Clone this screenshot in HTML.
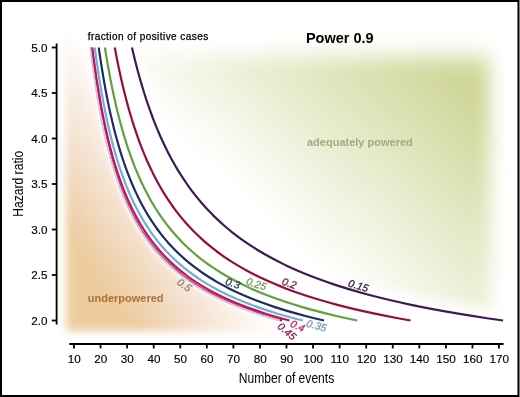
<!DOCTYPE html>
<html><head><meta charset="utf-8"><title>Power 0.9</title>
<style>html,body{margin:0;padding:0;background:#808080;}body{width:520px;height:397px;overflow:hidden;}svg{display:block;}</style>
</head><body>
<svg width="520" height="397" viewBox="0 0 520 397">
<defs>
<filter id="b4" x="-20%" y="-20%" width="140%" height="140%"><feGaussianBlur stdDeviation="4"/></filter>
<filter id="bg2" x="-20%" y="-20%" width="140%" height="140%"><feGaussianBlur stdDeviation="9 11"/></filter>
<filter id="b3" x="-20%" y="-20%" width="140%" height="140%"><feGaussianBlur stdDeviation="3"/></filter>
<filter id="b5" x="-20%" y="-20%" width="140%" height="140%"><feGaussianBlur stdDeviation="5"/></filter>
<filter id="b6" x="-20%" y="-20%" width="140%" height="140%"><feGaussianBlur stdDeviation="6"/></filter>
<filter id="b7" x="-20%" y="-20%" width="140%" height="140%"><feGaussianBlur stdDeviation="7"/></filter>
<linearGradient id="go" gradientUnits="userSpaceOnUse" x1="214.5" y1="232.5" x2="116.8" y2="300">
<stop offset="0" stop-color="#eac4aa" stop-opacity="0"/>
<stop offset="0.5" stop-color="#ebc8a6" stop-opacity="0.5"/>
<stop offset="1" stop-color="#edcca0" stop-opacity="1"/>
</linearGradient>
<linearGradient id="gg" gradientUnits="userSpaceOnUse" x1="302" y1="254" x2="458" y2="88">
<stop offset="0" stop-color="#d0d79a" stop-opacity="0"/>
<stop offset="1" stop-color="#d0d79a" stop-opacity="1"/>
</linearGradient>
<mask id="mo1" maskUnits="userSpaceOnUse" x="0" y="0" width="520" height="397"><rect x="66" y="36" width="400" height="295" fill="#fff" filter="url(#b4)"/></mask>
<mask id="mo2" maskUnits="userSpaceOnUse" x="0" y="0" width="520" height="397"><path d="M30.00,-20.00 L89.54,-20.00 L89.54,47.50 L89.81,49.78 L90.08,52.05 L90.36,54.33 L90.64,56.60 L90.93,58.88 L91.22,61.15 L91.51,63.42 L91.81,65.70 L92.11,67.97 L92.42,70.25 L92.73,72.53 L93.05,74.80 L93.38,77.08 L93.70,79.35 L94.04,81.62 L94.38,83.90 L94.72,86.17 L95.07,88.45 L95.43,90.72 L95.79,93.00 L96.15,95.28 L96.53,97.55 L96.91,99.83 L97.30,102.10 L97.69,104.38 L98.09,106.65 L98.50,108.92 L98.91,111.20 L99.33,113.47 L99.76,115.75 L100.20,118.03 L100.65,120.30 L101.10,122.58 L101.56,124.85 L102.03,127.12 L102.51,129.40 L103.00,131.67 L103.50,133.95 L104.01,136.22 L104.53,138.50 L105.06,140.77 L105.60,143.05 L106.15,145.33 L106.71,147.60 L107.28,149.88 L107.87,152.15 L108.47,154.42 L109.08,156.70 L109.70,158.98 L110.34,161.25 L110.99,163.52 L111.66,165.80 L112.34,168.08 L113.04,170.35 L113.75,172.62 L114.48,174.90 L115.23,177.17 L115.99,179.45 L116.77,181.72 L117.57,184.00 L118.39,186.28 L119.24,188.55 L120.10,190.83 L120.98,193.10 L121.89,195.38 L122.82,197.65 L123.78,199.92 L124.76,202.20 L125.76,204.47 L126.80,206.75 L127.86,209.03 L128.96,211.30 L130.08,213.58 L131.24,215.85 L132.43,218.12 L133.65,220.40 L134.91,222.67 L136.21,224.95 L137.55,227.22 L138.94,229.50 L140.36,231.78 L141.83,234.05 L143.35,236.33 L144.92,238.60 L146.54,240.88 L148.22,243.15 L149.95,245.42 L151.75,247.70 L153.61,249.97 L155.53,252.25 L157.53,254.53 L159.60,256.80 L161.75,259.08 L163.98,261.35 L166.30,263.62 L168.72,265.90 L171.23,268.17 L173.84,270.45 L176.57,272.73 L179.41,275.00 L182.37,277.27 L185.47,279.55 L188.71,281.83 L192.10,284.10 L195.65,286.38 L199.37,288.65 L203.27,290.92 L207.36,293.20 L211.67,295.48 L216.21,297.75 L220.98,300.02 L226.02,302.30 L231.34,304.57 L236.97,306.85 L242.93,309.12 L249.25,311.40 L255.96,313.68 L263.09,315.95 L270.69,318.23 L278.80,320.50 L339.80,321.50 L339.80,380.00 L30.00,380.00 Z" fill="#fff" filter="url(#b3)"/></mask>
<mask id="mg1" maskUnits="userSpaceOnUse" x="0" y="0" width="520" height="397"><rect x="40" y="57" width="450" height="400" fill="#fff" filter="url(#bg2)"/></mask>
<mask id="mg2" maskUnits="userSpaceOnUse" x="0" y="0" width="520" height="397"><path d="M136.95,39.50 L137.48,41.78 L138.01,44.05 L138.56,46.33 L139.11,48.60 L139.67,50.88 L140.24,53.15 L140.82,55.42 L141.40,57.70 L142.00,59.97 L142.60,62.25 L143.22,64.53 L143.84,66.80 L144.47,69.08 L145.12,71.35 L145.77,73.62 L146.43,75.90 L147.11,78.17 L147.80,80.45 L148.49,82.72 L149.20,85.00 L149.92,87.28 L150.66,89.55 L151.40,91.83 L152.16,94.10 L152.93,96.38 L153.72,98.65 L154.51,100.92 L155.33,103.20 L156.16,105.47 L157.00,107.75 L157.86,110.03 L158.73,112.30 L159.62,114.58 L160.53,116.85 L161.45,119.12 L162.39,121.40 L163.35,123.67 L164.33,125.95 L165.33,128.22 L166.34,130.50 L167.38,132.77 L168.44,135.05 L169.52,137.33 L170.62,139.60 L171.75,141.88 L172.89,144.15 L174.07,146.42 L175.26,148.70 L176.49,150.98 L177.74,153.25 L179.02,155.52 L180.32,157.80 L181.66,160.08 L183.02,162.35 L184.42,164.62 L185.85,166.90 L187.32,169.17 L188.81,171.45 L190.35,173.72 L191.92,176.00 L193.53,178.28 L195.18,180.55 L196.87,182.83 L198.61,185.10 L200.38,187.38 L202.21,189.65 L204.08,191.92 L206.01,194.20 L207.98,196.47 L210.01,198.75 L212.10,201.03 L214.24,203.30 L216.44,205.58 L218.71,207.85 L221.04,210.12 L223.45,212.40 L225.92,214.67 L228.47,216.95 L231.10,219.22 L233.81,221.50 L236.60,223.78 L239.49,226.05 L242.47,228.33 L245.54,230.60 L248.72,232.88 L252.01,235.15 L255.41,237.42 L258.93,239.70 L262.57,241.97 L266.35,244.25 L270.27,246.53 L274.33,248.80 L278.54,251.08 L282.92,253.35 L287.47,255.62 L292.20,257.90 L297.12,260.17 L302.25,262.45 L307.59,264.73 L313.17,267.00 L318.98,269.27 L325.06,271.55 L331.40,273.83 L338.05,276.10 L345.00,278.38 L352.30,280.65 L359.95,282.92 L367.98,285.20 L376.43,287.48 L385.32,289.75 L394.68,292.02 L404.56,294.30 L415.00,296.57 L426.03,298.85 L437.72,301.12 L450.11,303.40 L463.26,305.68 L477.25,307.95 L492.16,310.23 L508.06,312.50 L560.00,312.50 L560.00,0.00 L136.95,0.00 Z" fill="#fff" filter="url(#b6)"/></mask>
</defs>
<rect x="0" y="0" width="520" height="397" fill="#808080"/>
<rect x="0" y="0" width="519" height="397" fill="#000"/>
<rect x="2" y="2" width="515" height="393" fill="#fff"/>
<rect x="517" y="2" width="1" height="393" fill="#7a7a7a"/>
<g mask="url(#mo1)"><rect x="40" y="20" width="400" height="350" fill="url(#go)" mask="url(#mo2)"/></g>
<g mask="url(#mg1)"><rect x="60" y="20" width="460" height="350" fill="url(#gg)" mask="url(#mg2)"/></g>
<g stroke="#000" stroke-width="1.8" fill="none" stroke-linecap="butt">
<path d="M56.6,43.5 V324.6"/>
<path d="M51.8,47.50 H56.6"/>
<path d="M51.8,93.00 H56.6"/>
<path d="M51.8,138.50 H56.6"/>
<path d="M51.8,184.00 H56.6"/>
<path d="M51.8,229.50 H56.6"/>
<path d="M51.8,275.00 H56.6"/>
<path d="M51.8,320.50 H56.6"/>
<path d="M69.3,344 H503.6"/>
<path d="M74.00,344 V348.4"/>
<path d="M100.56,344 V348.4"/>
<path d="M127.12,344 V348.4"/>
<path d="M153.69,344 V348.4"/>
<path d="M180.25,344 V348.4"/>
<path d="M206.81,344 V348.4"/>
<path d="M233.38,344 V348.4"/>
<path d="M259.94,344 V348.4"/>
<path d="M286.50,344 V348.4"/>
<path d="M313.06,344 V348.4"/>
<path d="M339.62,344 V348.4"/>
<path d="M366.19,344 V348.4"/>
<path d="M392.75,344 V348.4"/>
<path d="M419.31,344 V348.4"/>
<path d="M445.88,344 V348.4"/>
<path d="M472.44,344 V348.4"/>
<path d="M499.00,344 V348.4"/>
</g>
<g font-family="Liberation Sans, Arial, sans-serif" font-size="11.7" fill="#000" stroke="#000" stroke-width="0.15">
<text x="47.4" y="51.50" text-anchor="end">5.0</text>
<text x="47.4" y="97.00" text-anchor="end">4.5</text>
<text x="47.4" y="142.50" text-anchor="end">4.0</text>
<text x="47.4" y="188.00" text-anchor="end">3.5</text>
<text x="47.4" y="233.50" text-anchor="end">3.0</text>
<text x="47.4" y="279.00" text-anchor="end">2.5</text>
<text x="47.4" y="324.50" text-anchor="end">2.0</text>
<text x="74.20" y="363.1" text-anchor="middle">10</text>
<text x="100.76" y="363.1" text-anchor="middle">20</text>
<text x="127.33" y="363.1" text-anchor="middle">30</text>
<text x="153.89" y="363.1" text-anchor="middle">40</text>
<text x="180.45" y="363.1" text-anchor="middle">50</text>
<text x="207.01" y="363.1" text-anchor="middle">60</text>
<text x="233.57" y="363.1" text-anchor="middle">70</text>
<text x="260.14" y="363.1" text-anchor="middle">80</text>
<text x="286.70" y="363.1" text-anchor="middle">90</text>
<text x="313.26" y="363.1" text-anchor="middle">100</text>
<text x="339.82" y="363.1" text-anchor="middle">110</text>
<text x="366.39" y="363.1" text-anchor="middle">120</text>
<text x="392.95" y="363.1" text-anchor="middle">130</text>
<text x="419.51" y="363.1" text-anchor="middle">140</text>
<text x="446.07" y="363.1" text-anchor="middle">150</text>
<text x="472.64" y="363.1" text-anchor="middle">160</text>
<text x="499.20" y="363.1" text-anchor="middle">170</text>
</g>
<text transform="translate(286.5 382.7) scale(0.865 1)" text-anchor="middle" font-family="Liberation Sans, Arial, sans-serif" font-size="14" fill="#000">Number of events</text>
<text transform="translate(22.6 183.8) rotate(-90) scale(0.865 1)" text-anchor="middle" font-family="Liberation Sans, Arial, sans-serif" font-size="14" fill="#000">Hazard ratio</text>
<text x="87.7" y="39.7" font-family="Liberation Sans, Arial, sans-serif" font-size="10" letter-spacing="0.44" fill="#000" stroke="#000" stroke-width="0.25">fraction of positive cases</text>
<text x="305.9" y="42.6" font-family="Liberation Sans, Arial, sans-serif" font-size="14.5" font-weight="bold" fill="#000">Power 0.9</text>
<text x="307" y="146" font-family="Liberation Sans, Arial, sans-serif" font-size="11" font-weight="bold" fill="#a2ab78">adequately powered</text>
<text x="87.8" y="301.9" font-family="Liberation Sans, Arial, sans-serif" font-size="11" font-weight="bold" fill="#ab6f34">underpowered</text>
<g fill="none" stroke-linecap="butt" stroke-linejoin="round">
<path d="M90.97,47.50 L91.25,49.78 L91.52,52.05 L91.80,54.33 L92.09,56.60 L92.38,58.88 L92.67,61.15 L92.97,63.42 L93.27,65.70 L93.57,67.97 L93.89,70.25 L94.20,72.53 L94.52,74.80 L94.85,77.08 L95.18,79.35 L95.52,81.62 L95.86,83.90 L96.21,86.17 L96.56,88.45 L96.92,90.72 L97.29,93.00 L97.66,95.28 L98.03,97.55 L98.42,99.83 L98.81,102.10 L99.21,104.38 L99.61,106.65 L100.02,108.92 L100.44,111.20 L100.87,113.47 L101.30,115.75 L101.74,118.03 L102.19,120.30 L102.65,122.58 L103.12,124.85 L103.60,127.12 L104.08,129.40 L104.57,131.67 L105.08,133.95 L105.59,136.22 L106.12,138.50 L106.65,140.77 L107.20,143.05 L107.75,145.33 L108.32,147.60 L108.90,149.88 L109.49,152.15 L110.09,154.42 L110.71,156.70 L111.34,158.98 L111.99,161.25 L112.64,163.52 L113.32,165.80 L114.01,168.08 L114.71,170.35 L115.43,172.62 L116.17,174.90 L116.92,177.17 L117.69,179.45 L118.48,181.72 L119.29,184.00 L120.12,186.28 L120.97,188.55 L121.84,190.83 L122.74,193.10 L123.65,195.38 L124.59,197.65 L125.56,199.92 L126.55,202.20 L127.57,204.47 L128.61,206.75 L129.69,209.03 L130.79,211.30 L131.93,213.58 L133.09,215.85 L134.30,218.12 L135.53,220.40 L136.81,222.67 L138.12,224.95 L139.47,227.22 L140.87,229.50 L142.31,231.78 L143.80,234.05 L145.33,236.33 L146.92,238.60 L148.55,240.88 L150.25,243.15 L152.00,245.42 L153.81,247.70 L155.69,249.97 L157.63,252.25 L159.65,254.53 L161.74,256.80 L163.92,259.08 L166.17,261.35 L168.51,263.62 L170.95,265.90 L173.49,268.17 L176.13,270.45 L178.88,272.73 L181.75,275.00 L184.75,277.27 L187.88,279.55 L191.15,281.83 L194.57,284.10 L198.15,286.38 L201.91,288.65 L205.85,290.92 L209.99,293.20 L214.34,295.48 L218.92,297.75 L223.75,300.02 L228.84,302.30 L234.21,304.57 L239.90,306.85 L245.91,309.12 L252.30,311.40 L259.07,313.68 L266.28,315.95 L273.96,318.23 L282.15,320.50" stroke="#fff" stroke-opacity="0.75" stroke-width="4.60"/>
<path d="M90.54,47.50 L90.81,49.78 L91.08,52.05 L91.36,54.33 L91.64,56.60 L91.93,58.88 L92.22,61.15 L92.51,63.42 L92.81,65.70 L93.11,67.97 L93.42,70.25 L93.73,72.53 L94.05,74.80 L94.38,77.08 L94.70,79.35 L95.04,81.62 L95.38,83.90 L95.72,86.17 L96.07,88.45 L96.43,90.72 L96.79,93.00 L97.15,95.28 L97.53,97.55 L97.91,99.83 L98.30,102.10 L98.69,104.38 L99.09,106.65 L99.50,108.92 L99.91,111.20 L100.33,113.47 L100.76,115.75 L101.20,118.03 L101.65,120.30 L102.10,122.58 L102.56,124.85 L103.03,127.12 L103.51,129.40 L104.00,131.67 L104.50,133.95 L105.01,136.22 L105.53,138.50 L106.06,140.77 L106.60,143.05 L107.15,145.33 L107.71,147.60 L108.28,149.88 L108.87,152.15 L109.47,154.42 L110.08,156.70 L110.70,158.98 L111.34,161.25 L111.99,163.52 L112.66,165.80 L113.34,168.08 L114.04,170.35 L114.75,172.62 L115.48,174.90 L116.23,177.17 L116.99,179.45 L117.77,181.72 L118.57,184.00 L119.39,186.28 L120.24,188.55 L121.10,190.83 L121.98,193.10 L122.89,195.38 L123.82,197.65 L124.78,199.92 L125.76,202.20 L126.76,204.47 L127.80,206.75 L128.86,209.03 L129.96,211.30 L131.08,213.58 L132.24,215.85 L133.43,218.12 L134.65,220.40 L135.91,222.67 L137.21,224.95 L138.55,227.22 L139.94,229.50 L141.36,231.78 L142.83,234.05 L144.35,236.33 L145.92,238.60 L147.54,240.88 L149.22,243.15 L150.95,245.42 L152.75,247.70 L154.61,249.97 L156.53,252.25 L158.53,254.53 L160.60,256.80 L162.75,259.08 L164.98,261.35 L167.30,263.62 L169.72,265.90 L172.23,268.17 L174.84,270.45 L177.57,272.73 L180.41,275.00 L183.37,277.27 L186.47,279.55 L189.71,281.83 L193.10,284.10 L196.65,286.38 L200.37,288.65 L204.27,290.92 L208.36,293.20 L212.67,295.48 L217.21,297.75 L221.98,300.02 L227.02,302.30 L232.34,304.57 L237.97,306.85 L243.93,309.12 L250.25,311.40 L256.96,313.68 L264.09,315.95 L271.69,318.23 L279.80,320.50" stroke="#fff" stroke-opacity="0.75" stroke-width="4.60"/>
<path d="M92.33,47.50 L92.61,49.78 L92.90,52.05 L93.19,54.33 L93.48,56.60 L93.78,58.88 L94.08,61.15 L94.39,63.42 L94.70,65.70 L95.02,67.97 L95.34,70.25 L95.66,72.53 L96.00,74.80 L96.33,77.08 L96.67,79.35 L97.02,81.62 L97.37,83.90 L97.73,86.17 L98.10,88.45 L98.47,90.72 L98.84,93.00 L99.23,95.28 L99.62,97.55 L100.01,99.83 L100.41,102.10 L100.82,104.38 L101.24,106.65 L101.67,108.92 L102.10,111.20 L102.54,113.47 L102.99,115.75 L103.44,118.03 L103.91,120.30 L104.38,122.58 L104.86,124.85 L105.35,127.12 L105.85,129.40 L106.36,131.67 L106.88,133.95 L107.41,136.22 L107.95,138.50 L108.50,140.77 L109.06,143.05 L109.64,145.33 L110.22,147.60 L110.82,149.88 L111.43,152.15 L112.05,154.42 L112.69,156.70 L113.34,158.98 L114.00,161.25 L114.68,163.52 L115.38,165.80 L116.09,168.08 L116.81,170.35 L117.55,172.62 L118.31,174.90 L119.09,177.17 L119.89,179.45 L120.70,181.72 L121.54,184.00 L122.39,186.28 L123.27,188.55 L124.17,190.83 L125.09,193.10 L126.03,195.38 L127.00,197.65 L128.00,199.92 L129.02,202.20 L130.07,204.47 L131.15,206.75 L132.26,209.03 L133.39,211.30 L134.57,213.58 L135.77,215.85 L137.01,218.12 L138.29,220.40 L139.60,222.67 L140.96,224.95 L142.35,227.22 L143.79,229.50 L145.28,231.78 L146.81,234.05 L148.39,236.33 L150.02,238.60 L151.71,240.88 L153.46,243.15 L155.27,245.42 L157.14,247.70 L159.07,249.97 L161.08,252.25 L163.16,254.53 L165.32,256.80 L167.56,259.08 L169.88,261.35 L172.30,263.62 L174.81,265.90 L177.43,268.17 L180.15,270.45 L182.99,272.73 L185.95,275.00 L189.04,277.27 L192.27,279.55 L195.64,281.83 L199.17,284.10 L202.86,286.38 L206.74,288.65 L210.80,290.92 L215.07,293.20 L219.56,295.48 L224.28,297.75 L229.26,300.02 L234.50,302.30 L240.05,304.57 L245.91,306.85 L252.12,309.12 L258.70,311.40 L265.69,313.68 L273.12,315.95 L281.04,318.23 L289.49,320.50" stroke="#fff" stroke-opacity="0.75" stroke-width="4.60"/>
<path d="M94.80,47.50 L95.10,49.78 L95.40,52.05 L95.70,54.33 L96.01,56.60 L96.33,58.88 L96.65,61.15 L96.97,63.42 L97.30,65.70 L97.63,67.97 L97.97,70.25 L98.31,72.53 L98.66,74.80 L99.02,77.08 L99.38,79.35 L99.74,81.62 L100.12,83.90 L100.50,86.17 L100.88,88.45 L101.27,90.72 L101.67,93.00 L102.07,95.28 L102.48,97.55 L102.90,99.83 L103.33,102.10 L103.76,104.38 L104.20,106.65 L104.65,108.92 L105.10,111.20 L105.57,113.47 L106.04,115.75 L106.52,118.03 L107.01,120.30 L107.51,122.58 L108.01,124.85 L108.53,127.12 L109.06,129.40 L109.60,131.67 L110.15,133.95 L110.70,136.22 L111.27,138.50 L111.86,140.77 L112.45,143.05 L113.05,145.33 L113.67,147.60 L114.30,149.88 L114.95,152.15 L115.60,154.42 L116.27,156.70 L116.96,158.98 L117.66,161.25 L118.38,163.52 L119.11,165.80 L119.86,168.08 L120.62,170.35 L121.41,172.62 L122.21,174.90 L123.03,177.17 L123.87,179.45 L124.73,181.72 L125.61,184.00 L126.51,186.28 L127.44,188.55 L128.38,190.83 L129.36,193.10 L130.35,195.38 L131.38,197.65 L132.43,199.92 L133.50,202.20 L134.61,204.47 L135.75,206.75 L136.92,209.03 L138.12,211.30 L139.35,213.58 L140.62,215.85 L141.93,218.12 L143.28,220.40 L144.66,222.67 L146.09,224.95 L147.57,227.22 L149.08,229.50 L150.65,231.78 L152.27,234.05 L153.94,236.33 L155.66,238.60 L157.44,240.88 L159.28,243.15 L161.19,245.42 L163.16,247.70 L165.21,249.97 L167.32,252.25 L169.52,254.53 L171.79,256.80 L174.16,259.08 L176.61,261.35 L179.16,263.62 L181.81,265.90 L184.57,268.17 L187.44,270.45 L190.44,272.73 L193.56,275.00 L196.82,277.27 L200.22,279.55 L203.78,281.83 L207.50,284.10 L211.40,286.38 L215.49,288.65 L219.78,290.92 L224.28,293.20 L229.01,295.48 L234.00,297.75 L239.25,300.02 L244.78,302.30 L250.63,304.57 L256.81,306.85 L263.36,309.12 L270.31,311.40 L277.68,313.68 L285.52,315.95 L293.87,318.23 L302.79,320.50" stroke="#fff" stroke-opacity="0.75" stroke-width="4.60"/>
<path d="M98.75,47.50 L99.07,49.78 L99.39,52.05 L99.72,54.33 L100.06,56.60 L100.40,58.88 L100.75,61.15 L101.10,63.42 L101.45,65.70 L101.81,67.97 L102.18,70.25 L102.55,72.53 L102.93,74.80 L103.32,77.08 L103.71,79.35 L104.10,81.62 L104.51,83.90 L104.92,86.17 L105.33,88.45 L105.76,90.72 L106.19,93.00 L106.62,95.28 L107.07,97.55 L107.52,99.83 L107.98,102.10 L108.45,104.38 L108.93,106.65 L109.41,108.92 L109.91,111.20 L110.41,113.47 L110.92,115.75 L111.44,118.03 L111.97,120.30 L112.51,122.58 L113.06,124.85 L113.62,127.12 L114.19,129.40 L114.78,131.67 L115.37,133.95 L115.98,136.22 L116.59,138.50 L117.22,140.77 L117.87,143.05 L118.52,145.33 L119.19,147.60 L119.87,149.88 L120.57,152.15 L121.28,154.42 L122.01,156.70 L122.75,158.98 L123.51,161.25 L124.29,163.52 L125.08,165.80 L125.89,168.08 L126.72,170.35 L127.57,172.62 L128.44,174.90 L129.33,177.17 L130.24,179.45 L131.17,181.72 L132.12,184.00 L133.10,186.28 L134.10,188.55 L135.13,190.83 L136.18,193.10 L137.26,195.38 L138.37,197.65 L139.51,199.92 L140.68,202.20 L141.87,204.47 L143.11,206.75 L144.37,209.03 L145.67,211.30 L147.01,213.58 L148.39,215.85 L149.81,218.12 L151.26,220.40 L152.77,222.67 L154.31,224.95 L155.91,227.22 L157.56,229.50 L159.25,231.78 L161.00,234.05 L162.81,236.33 L164.68,238.60 L166.61,240.88 L168.61,243.15 L170.67,245.42 L172.81,247.70 L175.02,249.97 L177.31,252.25 L179.69,254.53 L182.16,256.80 L184.72,259.08 L187.37,261.35 L190.14,263.62 L193.01,265.90 L196.00,268.17 L199.11,270.45 L202.35,272.73 L205.74,275.00 L209.27,277.27 L212.96,279.55 L216.81,281.83 L220.84,284.10 L225.07,286.38 L229.49,288.65 L234.14,290.92 L239.02,293.20 L244.15,295.48 L249.54,297.75 L255.23,300.02 L261.23,302.30 L267.56,304.57 L274.26,306.85 L281.36,309.12 L288.88,311.40 L296.87,313.68 L305.36,315.95 L314.41,318.23 L324.06,320.50" stroke="#fff" stroke-opacity="0.75" stroke-width="4.60"/>
<path d="M104.90,47.50 L105.26,49.78 L105.63,52.05 L106.00,54.33 L106.37,56.60 L106.76,58.88 L107.14,61.15 L107.54,63.42 L107.93,65.70 L108.34,67.97 L108.75,70.25 L109.17,72.53 L109.59,74.80 L110.02,77.08 L110.46,79.35 L110.90,81.62 L111.36,83.90 L111.81,86.17 L112.28,88.45 L112.76,90.72 L113.24,93.00 L113.73,95.28 L114.23,97.55 L114.73,99.83 L115.25,102.10 L115.77,104.38 L116.31,106.65 L116.85,108.92 L117.40,111.20 L117.97,113.47 L118.54,115.75 L119.12,118.03 L119.72,120.30 L120.32,122.58 L120.94,124.85 L121.57,127.12 L122.21,129.40 L122.86,131.67 L123.52,133.95 L124.20,136.22 L124.89,138.50 L125.60,140.77 L126.32,143.05 L127.05,145.33 L127.80,147.60 L128.57,149.88 L129.35,152.15 L130.14,154.42 L130.96,156.70 L131.79,158.98 L132.64,161.25 L133.51,163.52 L134.40,165.80 L135.31,168.08 L136.24,170.35 L137.19,172.62 L138.16,174.90 L139.15,177.17 L140.17,179.45 L141.22,181.72 L142.29,184.00 L143.38,186.28 L144.50,188.55 L145.65,190.83 L146.83,193.10 L148.04,195.38 L149.28,197.65 L150.56,199.92 L151.86,202.20 L153.21,204.47 L154.59,206.75 L156.01,209.03 L157.46,211.30 L158.96,213.58 L160.50,215.85 L162.09,218.12 L163.72,220.40 L165.41,222.67 L167.14,224.95 L168.93,227.22 L170.77,229.50 L172.67,231.78 L174.63,234.05 L176.66,236.33 L178.75,238.60 L180.91,240.88 L183.15,243.15 L185.46,245.42 L187.85,247.70 L190.33,249.97 L192.90,252.25 L195.56,254.53 L198.32,256.80 L201.19,259.08 L204.17,261.35 L207.26,263.62 L210.48,265.90 L213.82,268.17 L217.31,270.45 L220.94,272.73 L224.73,275.00 L228.69,277.27 L232.82,279.55 L237.14,281.83 L241.65,284.10 L246.38,286.38 L251.34,288.65 L256.54,290.92 L262.01,293.20 L267.75,295.48 L273.80,297.75 L280.17,300.02 L286.88,302.30 L293.98,304.57 L301.48,306.85 L309.43,309.12 L317.85,311.40 L326.80,313.68 L336.31,315.95 L346.45,318.23 L357.26,320.50" stroke="#fff" stroke-opacity="0.75" stroke-width="4.60"/>
<path d="M114.78,47.50 L115.20,49.78 L115.63,52.05 L116.06,54.33 L116.50,56.60 L116.95,58.88 L117.40,61.15 L117.86,63.42 L118.33,65.70 L118.81,67.97 L119.29,70.25 L119.78,72.53 L120.27,74.80 L120.78,77.08 L121.29,79.35 L121.81,81.62 L122.34,83.90 L122.88,86.17 L123.43,88.45 L123.98,90.72 L124.55,93.00 L125.12,95.28 L125.71,97.55 L126.30,99.83 L126.90,102.10 L127.52,104.38 L128.14,106.65 L128.78,108.92 L129.43,111.20 L130.09,113.47 L130.76,115.75 L131.44,118.03 L132.14,120.30 L132.85,122.58 L133.57,124.85 L134.31,127.12 L135.06,129.40 L135.82,131.67 L136.60,133.95 L137.40,136.22 L138.21,138.50 L139.03,140.77 L139.88,143.05 L140.74,145.33 L141.61,147.60 L142.51,149.88 L143.43,152.15 L144.36,154.42 L145.31,156.70 L146.29,158.98 L147.29,161.25 L148.30,163.52 L149.35,165.80 L150.41,168.08 L151.50,170.35 L152.61,172.62 L153.75,174.90 L154.92,177.17 L156.11,179.45 L157.33,181.72 L158.59,184.00 L159.87,186.28 L161.18,188.55 L162.53,190.83 L163.91,193.10 L165.33,195.38 L166.79,197.65 L168.28,199.92 L169.81,202.20 L171.39,204.47 L173.00,206.75 L174.67,209.03 L176.37,211.30 L178.13,213.58 L179.94,215.85 L181.80,218.12 L183.71,220.40 L185.68,222.67 L187.71,224.95 L189.81,227.22 L191.97,229.50 L194.19,231.78 L196.49,234.05 L198.87,236.33 L201.32,238.60 L203.85,240.88 L206.47,243.15 L209.18,245.42 L211.99,247.70 L214.89,249.97 L217.90,252.25 L221.02,254.53 L224.26,256.80 L227.61,259.08 L231.10,261.35 L234.73,263.62 L238.50,265.90 L242.42,268.17 L246.51,270.45 L250.77,272.73 L255.21,275.00 L259.84,277.27 L264.68,279.55 L269.74,281.83 L275.03,284.10 L280.58,286.38 L286.39,288.65 L292.48,290.92 L298.89,293.20 L305.62,295.48 L312.70,297.75 L320.17,300.02 L328.04,302.30 L336.35,304.57 L345.15,306.85 L354.46,309.12 L364.33,311.40 L374.81,313.68 L385.96,315.95 L397.84,318.23 L410.51,320.50" stroke="#fff" stroke-opacity="0.75" stroke-width="4.60"/>
<path d="M131.95,47.50 L132.48,49.78 L133.01,52.05 L133.56,54.33 L134.11,56.60 L134.67,58.88 L135.24,61.15 L135.82,63.42 L136.40,65.70 L137.00,67.97 L137.60,70.25 L138.22,72.53 L138.84,74.80 L139.47,77.08 L140.12,79.35 L140.77,81.62 L141.43,83.90 L142.11,86.17 L142.80,88.45 L143.49,90.72 L144.20,93.00 L144.92,95.28 L145.66,97.55 L146.40,99.83 L147.16,102.10 L147.93,104.38 L148.72,106.65 L149.51,108.92 L150.33,111.20 L151.16,113.47 L152.00,115.75 L152.86,118.03 L153.73,120.30 L154.62,122.58 L155.53,124.85 L156.45,127.12 L157.39,129.40 L158.35,131.67 L159.33,133.95 L160.33,136.22 L161.34,138.50 L162.38,140.77 L163.44,143.05 L164.52,145.33 L165.62,147.60 L166.75,149.88 L167.89,152.15 L169.07,154.42 L170.26,156.70 L171.49,158.98 L172.74,161.25 L174.02,163.52 L175.32,165.80 L176.66,168.08 L178.02,170.35 L179.42,172.62 L180.85,174.90 L182.32,177.17 L183.81,179.45 L185.35,181.72 L186.92,184.00 L188.53,186.28 L190.18,188.55 L191.87,190.83 L193.61,193.10 L195.38,195.38 L197.21,197.65 L199.08,199.92 L201.01,202.20 L202.98,204.47 L205.01,206.75 L207.10,209.03 L209.24,211.30 L211.44,213.58 L213.71,215.85 L216.04,218.12 L218.45,220.40 L220.92,222.67 L223.47,224.95 L226.10,227.22 L228.81,229.50 L231.60,231.78 L234.49,234.05 L237.47,236.33 L240.54,238.60 L243.72,240.88 L247.01,243.15 L250.41,245.42 L253.93,247.70 L257.57,249.97 L261.35,252.25 L265.27,254.53 L269.33,256.80 L273.54,259.08 L277.92,261.35 L282.47,263.62 L287.20,265.90 L292.12,268.17 L297.25,270.45 L302.59,272.73 L308.17,275.00 L313.98,277.27 L320.06,279.55 L326.40,281.83 L333.05,284.10 L340.00,286.38 L347.30,288.65 L354.95,290.92 L362.98,293.20 L371.43,295.48 L380.32,297.75 L389.68,300.02 L399.56,302.30 L410.00,304.57 L421.03,306.85 L432.72,309.12 L445.11,311.40 L458.26,313.68 L472.25,315.95 L487.16,318.23 L503.06,320.50" stroke="#fff" stroke-opacity="0.75" stroke-width="4.60"/>
<path d="M90.97,47.50 L91.25,49.78 L91.52,52.05 L91.80,54.33 L92.09,56.60 L92.38,58.88 L92.67,61.15 L92.97,63.42 L93.27,65.70 L93.57,67.97 L93.89,70.25 L94.20,72.53 L94.52,74.80 L94.85,77.08 L95.18,79.35 L95.52,81.62 L95.86,83.90 L96.21,86.17 L96.56,88.45 L96.92,90.72 L97.29,93.00 L97.66,95.28 L98.03,97.55 L98.42,99.83 L98.81,102.10 L99.21,104.38 L99.61,106.65 L100.02,108.92 L100.44,111.20 L100.87,113.47 L101.30,115.75 L101.74,118.03 L102.19,120.30 L102.65,122.58 L103.12,124.85 L103.60,127.12 L104.08,129.40 L104.57,131.67 L105.08,133.95 L105.59,136.22 L106.12,138.50 L106.65,140.77 L107.20,143.05 L107.75,145.33 L108.32,147.60 L108.90,149.88 L109.49,152.15 L110.09,154.42 L110.71,156.70 L111.34,158.98 L111.99,161.25 L112.64,163.52 L113.32,165.80 L114.01,168.08 L114.71,170.35 L115.43,172.62 L116.17,174.90 L116.92,177.17 L117.69,179.45 L118.48,181.72 L119.29,184.00 L120.12,186.28 L120.97,188.55 L121.84,190.83 L122.74,193.10 L123.65,195.38 L124.59,197.65 L125.56,199.92 L126.55,202.20 L127.57,204.47 L128.61,206.75 L129.69,209.03 L130.79,211.30 L131.93,213.58 L133.09,215.85 L134.30,218.12 L135.53,220.40 L136.81,222.67 L138.12,224.95 L139.47,227.22 L140.87,229.50 L142.31,231.78 L143.80,234.05 L145.33,236.33 L146.92,238.60 L148.55,240.88 L150.25,243.15 L152.00,245.42 L153.81,247.70 L155.69,249.97 L157.63,252.25 L159.65,254.53 L161.74,256.80 L163.92,259.08 L166.17,261.35 L168.51,263.62 L170.95,265.90 L173.49,268.17 L176.13,270.45 L178.88,272.73 L181.75,275.00 L184.75,277.27 L187.88,279.55 L191.15,281.83 L194.57,284.10 L198.15,286.38 L201.91,288.65 L205.85,290.92 L209.99,293.20 L214.34,295.48 L218.92,297.75 L223.75,300.02 L228.84,302.30 L234.21,304.57 L239.90,306.85 L245.91,309.12 L252.30,311.40 L259.07,313.68 L266.28,315.95 L273.96,318.23 L282.15,320.50" stroke="#9a1450" stroke-width="2.20"/>
<path d="M90.54,47.50 L90.81,49.78 L91.08,52.05 L91.36,54.33 L91.64,56.60 L91.93,58.88 L92.22,61.15 L92.51,63.42 L92.81,65.70 L93.11,67.97 L93.42,70.25 L93.73,72.53 L94.05,74.80 L94.38,77.08 L94.70,79.35 L95.04,81.62 L95.38,83.90 L95.72,86.17 L96.07,88.45 L96.43,90.72 L96.79,93.00 L97.15,95.28 L97.53,97.55 L97.91,99.83 L98.30,102.10 L98.69,104.38 L99.09,106.65 L99.50,108.92 L99.91,111.20 L100.33,113.47 L100.76,115.75 L101.20,118.03 L101.65,120.30 L102.10,122.58 L102.56,124.85 L103.03,127.12 L103.51,129.40 L104.00,131.67 L104.50,133.95 L105.01,136.22 L105.53,138.50 L106.06,140.77 L106.60,143.05 L107.15,145.33 L107.71,147.60 L108.28,149.88 L108.87,152.15 L109.47,154.42 L110.08,156.70 L110.70,158.98 L111.34,161.25 L111.99,163.52 L112.66,165.80 L113.34,168.08 L114.04,170.35 L114.75,172.62 L115.48,174.90 L116.23,177.17 L116.99,179.45 L117.77,181.72 L118.57,184.00 L119.39,186.28 L120.24,188.55 L121.10,190.83 L121.98,193.10 L122.89,195.38 L123.82,197.65 L124.78,199.92 L125.76,202.20 L126.76,204.47 L127.80,206.75 L128.86,209.03 L129.96,211.30 L131.08,213.58 L132.24,215.85 L133.43,218.12 L134.65,220.40 L135.91,222.67 L137.21,224.95 L138.55,227.22 L139.94,229.50 L141.36,231.78 L142.83,234.05 L144.35,236.33 L145.92,238.60 L147.54,240.88 L149.22,243.15 L150.95,245.42 L152.75,247.70 L154.61,249.97 L156.53,252.25 L158.53,254.53 L160.60,256.80 L162.75,259.08 L164.98,261.35 L167.30,263.62 L169.72,265.90 L172.23,268.17 L174.84,270.45 L177.57,272.73 L180.41,275.00 L183.37,277.27 L186.47,279.55 L189.71,281.83 L193.10,284.10 L196.65,286.38 L200.37,288.65 L204.27,290.92 L208.36,293.20 L212.67,295.48 L217.21,297.75 L221.98,300.02 L227.02,302.30 L232.34,304.57 L237.97,306.85 L243.93,309.12 L250.25,311.40 L256.96,313.68 L264.09,315.95 L271.69,318.23 L279.80,320.50" stroke="#d6cad8" stroke-width="2.20"/>
<path d="M92.33,47.50 L92.61,49.78 L92.90,52.05 L93.19,54.33 L93.48,56.60 L93.78,58.88 L94.08,61.15 L94.39,63.42 L94.70,65.70 L95.02,67.97 L95.34,70.25 L95.66,72.53 L96.00,74.80 L96.33,77.08 L96.67,79.35 L97.02,81.62 L97.37,83.90 L97.73,86.17 L98.10,88.45 L98.47,90.72 L98.84,93.00 L99.23,95.28 L99.62,97.55 L100.01,99.83 L100.41,102.10 L100.82,104.38 L101.24,106.65 L101.67,108.92 L102.10,111.20 L102.54,113.47 L102.99,115.75 L103.44,118.03 L103.91,120.30 L104.38,122.58 L104.86,124.85 L105.35,127.12 L105.85,129.40 L106.36,131.67 L106.88,133.95 L107.41,136.22 L107.95,138.50 L108.50,140.77 L109.06,143.05 L109.64,145.33 L110.22,147.60 L110.82,149.88 L111.43,152.15 L112.05,154.42 L112.69,156.70 L113.34,158.98 L114.00,161.25 L114.68,163.52 L115.38,165.80 L116.09,168.08 L116.81,170.35 L117.55,172.62 L118.31,174.90 L119.09,177.17 L119.89,179.45 L120.70,181.72 L121.54,184.00 L122.39,186.28 L123.27,188.55 L124.17,190.83 L125.09,193.10 L126.03,195.38 L127.00,197.65 L128.00,199.92 L129.02,202.20 L130.07,204.47 L131.15,206.75 L132.26,209.03 L133.39,211.30 L134.57,213.58 L135.77,215.85 L137.01,218.12 L138.29,220.40 L139.60,222.67 L140.96,224.95 L142.35,227.22 L143.79,229.50 L145.28,231.78 L146.81,234.05 L148.39,236.33 L150.02,238.60 L151.71,240.88 L153.46,243.15 L155.27,245.42 L157.14,247.70 L159.07,249.97 L161.08,252.25 L163.16,254.53 L165.32,256.80 L167.56,259.08 L169.88,261.35 L172.30,263.62 L174.81,265.90 L177.43,268.17 L180.15,270.45 L182.99,272.73 L185.95,275.00 L189.04,277.27 L192.27,279.55 L195.64,281.83 L199.17,284.10 L202.86,286.38 L206.74,288.65 L210.80,290.92 L215.07,293.20 L219.56,295.48 L224.28,297.75 L229.26,300.02 L234.50,302.30 L240.05,304.57 L245.91,306.85 L252.12,309.12 L258.70,311.40 L265.69,313.68 L273.12,315.95 L281.04,318.23 L289.49,320.50" stroke="#c2125e" stroke-width="2.20"/>
<path d="M94.80,47.50 L95.10,49.78 L95.40,52.05 L95.70,54.33 L96.01,56.60 L96.33,58.88 L96.65,61.15 L96.97,63.42 L97.30,65.70 L97.63,67.97 L97.97,70.25 L98.31,72.53 L98.66,74.80 L99.02,77.08 L99.38,79.35 L99.74,81.62 L100.12,83.90 L100.50,86.17 L100.88,88.45 L101.27,90.72 L101.67,93.00 L102.07,95.28 L102.48,97.55 L102.90,99.83 L103.33,102.10 L103.76,104.38 L104.20,106.65 L104.65,108.92 L105.10,111.20 L105.57,113.47 L106.04,115.75 L106.52,118.03 L107.01,120.30 L107.51,122.58 L108.01,124.85 L108.53,127.12 L109.06,129.40 L109.60,131.67 L110.15,133.95 L110.70,136.22 L111.27,138.50 L111.86,140.77 L112.45,143.05 L113.05,145.33 L113.67,147.60 L114.30,149.88 L114.95,152.15 L115.60,154.42 L116.27,156.70 L116.96,158.98 L117.66,161.25 L118.38,163.52 L119.11,165.80 L119.86,168.08 L120.62,170.35 L121.41,172.62 L122.21,174.90 L123.03,177.17 L123.87,179.45 L124.73,181.72 L125.61,184.00 L126.51,186.28 L127.44,188.55 L128.38,190.83 L129.36,193.10 L130.35,195.38 L131.38,197.65 L132.43,199.92 L133.50,202.20 L134.61,204.47 L135.75,206.75 L136.92,209.03 L138.12,211.30 L139.35,213.58 L140.62,215.85 L141.93,218.12 L143.28,220.40 L144.66,222.67 L146.09,224.95 L147.57,227.22 L149.08,229.50 L150.65,231.78 L152.27,234.05 L153.94,236.33 L155.66,238.60 L157.44,240.88 L159.28,243.15 L161.19,245.42 L163.16,247.70 L165.21,249.97 L167.32,252.25 L169.52,254.53 L171.79,256.80 L174.16,259.08 L176.61,261.35 L179.16,263.62 L181.81,265.90 L184.57,268.17 L187.44,270.45 L190.44,272.73 L193.56,275.00 L196.82,277.27 L200.22,279.55 L203.78,281.83 L207.50,284.10 L211.40,286.38 L215.49,288.65 L219.78,290.92 L224.28,293.20 L229.01,295.48 L234.00,297.75 L239.25,300.02 L244.78,302.30 L250.63,304.57 L256.81,306.85 L263.36,309.12 L270.31,311.40 L277.68,313.68 L285.52,315.95 L293.87,318.23 L302.79,320.50" stroke="#72acd8" stroke-width="2.20"/>
<path d="M98.75,47.50 L99.07,49.78 L99.39,52.05 L99.72,54.33 L100.06,56.60 L100.40,58.88 L100.75,61.15 L101.10,63.42 L101.45,65.70 L101.81,67.97 L102.18,70.25 L102.55,72.53 L102.93,74.80 L103.32,77.08 L103.71,79.35 L104.10,81.62 L104.51,83.90 L104.92,86.17 L105.33,88.45 L105.76,90.72 L106.19,93.00 L106.62,95.28 L107.07,97.55 L107.52,99.83 L107.98,102.10 L108.45,104.38 L108.93,106.65 L109.41,108.92 L109.91,111.20 L110.41,113.47 L110.92,115.75 L111.44,118.03 L111.97,120.30 L112.51,122.58 L113.06,124.85 L113.62,127.12 L114.19,129.40 L114.78,131.67 L115.37,133.95 L115.98,136.22 L116.59,138.50 L117.22,140.77 L117.87,143.05 L118.52,145.33 L119.19,147.60 L119.87,149.88 L120.57,152.15 L121.28,154.42 L122.01,156.70 L122.75,158.98 L123.51,161.25 L124.29,163.52 L125.08,165.80 L125.89,168.08 L126.72,170.35 L127.57,172.62 L128.44,174.90 L129.33,177.17 L130.24,179.45 L131.17,181.72 L132.12,184.00 L133.10,186.28 L134.10,188.55 L135.13,190.83 L136.18,193.10 L137.26,195.38 L138.37,197.65 L139.51,199.92 L140.68,202.20 L141.87,204.47 L143.11,206.75 L144.37,209.03 L145.67,211.30 L147.01,213.58 L148.39,215.85 L149.81,218.12 L151.26,220.40 L152.77,222.67 L154.31,224.95 L155.91,227.22 L157.56,229.50 L159.25,231.78 L161.00,234.05 L162.81,236.33 L164.68,238.60 L166.61,240.88 L168.61,243.15 L170.67,245.42 L172.81,247.70 L175.02,249.97 L177.31,252.25 L179.69,254.53 L182.16,256.80 L184.72,259.08 L187.37,261.35 L190.14,263.62 L193.01,265.90 L196.00,268.17 L199.11,270.45 L202.35,272.73 L205.74,275.00 L209.27,277.27 L212.96,279.55 L216.81,281.83 L220.84,284.10 L225.07,286.38 L229.49,288.65 L234.14,290.92 L239.02,293.20 L244.15,295.48 L249.54,297.75 L255.23,300.02 L261.23,302.30 L267.56,304.57 L274.26,306.85 L281.36,309.12 L288.88,311.40 L296.87,313.68 L305.36,315.95 L314.41,318.23 L324.06,320.50" stroke="#1e2c66" stroke-width="2.20"/>
<path d="M104.90,47.50 L105.26,49.78 L105.63,52.05 L106.00,54.33 L106.37,56.60 L106.76,58.88 L107.14,61.15 L107.54,63.42 L107.93,65.70 L108.34,67.97 L108.75,70.25 L109.17,72.53 L109.59,74.80 L110.02,77.08 L110.46,79.35 L110.90,81.62 L111.36,83.90 L111.81,86.17 L112.28,88.45 L112.76,90.72 L113.24,93.00 L113.73,95.28 L114.23,97.55 L114.73,99.83 L115.25,102.10 L115.77,104.38 L116.31,106.65 L116.85,108.92 L117.40,111.20 L117.97,113.47 L118.54,115.75 L119.12,118.03 L119.72,120.30 L120.32,122.58 L120.94,124.85 L121.57,127.12 L122.21,129.40 L122.86,131.67 L123.52,133.95 L124.20,136.22 L124.89,138.50 L125.60,140.77 L126.32,143.05 L127.05,145.33 L127.80,147.60 L128.57,149.88 L129.35,152.15 L130.14,154.42 L130.96,156.70 L131.79,158.98 L132.64,161.25 L133.51,163.52 L134.40,165.80 L135.31,168.08 L136.24,170.35 L137.19,172.62 L138.16,174.90 L139.15,177.17 L140.17,179.45 L141.22,181.72 L142.29,184.00 L143.38,186.28 L144.50,188.55 L145.65,190.83 L146.83,193.10 L148.04,195.38 L149.28,197.65 L150.56,199.92 L151.86,202.20 L153.21,204.47 L154.59,206.75 L156.01,209.03 L157.46,211.30 L158.96,213.58 L160.50,215.85 L162.09,218.12 L163.72,220.40 L165.41,222.67 L167.14,224.95 L168.93,227.22 L170.77,229.50 L172.67,231.78 L174.63,234.05 L176.66,236.33 L178.75,238.60 L180.91,240.88 L183.15,243.15 L185.46,245.42 L187.85,247.70 L190.33,249.97 L192.90,252.25 L195.56,254.53 L198.32,256.80 L201.19,259.08 L204.17,261.35 L207.26,263.62 L210.48,265.90 L213.82,268.17 L217.31,270.45 L220.94,272.73 L224.73,275.00 L228.69,277.27 L232.82,279.55 L237.14,281.83 L241.65,284.10 L246.38,286.38 L251.34,288.65 L256.54,290.92 L262.01,293.20 L267.75,295.48 L273.80,297.75 L280.17,300.02 L286.88,302.30 L293.98,304.57 L301.48,306.85 L309.43,309.12 L317.85,311.40 L326.80,313.68 L336.31,315.95 L346.45,318.23 L357.26,320.50" stroke="#5ea23e" stroke-width="2.20"/>
<path d="M114.78,47.50 L115.20,49.78 L115.63,52.05 L116.06,54.33 L116.50,56.60 L116.95,58.88 L117.40,61.15 L117.86,63.42 L118.33,65.70 L118.81,67.97 L119.29,70.25 L119.78,72.53 L120.27,74.80 L120.78,77.08 L121.29,79.35 L121.81,81.62 L122.34,83.90 L122.88,86.17 L123.43,88.45 L123.98,90.72 L124.55,93.00 L125.12,95.28 L125.71,97.55 L126.30,99.83 L126.90,102.10 L127.52,104.38 L128.14,106.65 L128.78,108.92 L129.43,111.20 L130.09,113.47 L130.76,115.75 L131.44,118.03 L132.14,120.30 L132.85,122.58 L133.57,124.85 L134.31,127.12 L135.06,129.40 L135.82,131.67 L136.60,133.95 L137.40,136.22 L138.21,138.50 L139.03,140.77 L139.88,143.05 L140.74,145.33 L141.61,147.60 L142.51,149.88 L143.43,152.15 L144.36,154.42 L145.31,156.70 L146.29,158.98 L147.29,161.25 L148.30,163.52 L149.35,165.80 L150.41,168.08 L151.50,170.35 L152.61,172.62 L153.75,174.90 L154.92,177.17 L156.11,179.45 L157.33,181.72 L158.59,184.00 L159.87,186.28 L161.18,188.55 L162.53,190.83 L163.91,193.10 L165.33,195.38 L166.79,197.65 L168.28,199.92 L169.81,202.20 L171.39,204.47 L173.00,206.75 L174.67,209.03 L176.37,211.30 L178.13,213.58 L179.94,215.85 L181.80,218.12 L183.71,220.40 L185.68,222.67 L187.71,224.95 L189.81,227.22 L191.97,229.50 L194.19,231.78 L196.49,234.05 L198.87,236.33 L201.32,238.60 L203.85,240.88 L206.47,243.15 L209.18,245.42 L211.99,247.70 L214.89,249.97 L217.90,252.25 L221.02,254.53 L224.26,256.80 L227.61,259.08 L231.10,261.35 L234.73,263.62 L238.50,265.90 L242.42,268.17 L246.51,270.45 L250.77,272.73 L255.21,275.00 L259.84,277.27 L264.68,279.55 L269.74,281.83 L275.03,284.10 L280.58,286.38 L286.39,288.65 L292.48,290.92 L298.89,293.20 L305.62,295.48 L312.70,297.75 L320.17,300.02 L328.04,302.30 L336.35,304.57 L345.15,306.85 L354.46,309.12 L364.33,311.40 L374.81,313.68 L385.96,315.95 L397.84,318.23 L410.51,320.50" stroke="#980c3a" stroke-width="2.20"/>
<path d="M131.95,47.50 L132.48,49.78 L133.01,52.05 L133.56,54.33 L134.11,56.60 L134.67,58.88 L135.24,61.15 L135.82,63.42 L136.40,65.70 L137.00,67.97 L137.60,70.25 L138.22,72.53 L138.84,74.80 L139.47,77.08 L140.12,79.35 L140.77,81.62 L141.43,83.90 L142.11,86.17 L142.80,88.45 L143.49,90.72 L144.20,93.00 L144.92,95.28 L145.66,97.55 L146.40,99.83 L147.16,102.10 L147.93,104.38 L148.72,106.65 L149.51,108.92 L150.33,111.20 L151.16,113.47 L152.00,115.75 L152.86,118.03 L153.73,120.30 L154.62,122.58 L155.53,124.85 L156.45,127.12 L157.39,129.40 L158.35,131.67 L159.33,133.95 L160.33,136.22 L161.34,138.50 L162.38,140.77 L163.44,143.05 L164.52,145.33 L165.62,147.60 L166.75,149.88 L167.89,152.15 L169.07,154.42 L170.26,156.70 L171.49,158.98 L172.74,161.25 L174.02,163.52 L175.32,165.80 L176.66,168.08 L178.02,170.35 L179.42,172.62 L180.85,174.90 L182.32,177.17 L183.81,179.45 L185.35,181.72 L186.92,184.00 L188.53,186.28 L190.18,188.55 L191.87,190.83 L193.61,193.10 L195.38,195.38 L197.21,197.65 L199.08,199.92 L201.01,202.20 L202.98,204.47 L205.01,206.75 L207.10,209.03 L209.24,211.30 L211.44,213.58 L213.71,215.85 L216.04,218.12 L218.45,220.40 L220.92,222.67 L223.47,224.95 L226.10,227.22 L228.81,229.50 L231.60,231.78 L234.49,234.05 L237.47,236.33 L240.54,238.60 L243.72,240.88 L247.01,243.15 L250.41,245.42 L253.93,247.70 L257.57,249.97 L261.35,252.25 L265.27,254.53 L269.33,256.80 L273.54,259.08 L277.92,261.35 L282.47,263.62 L287.20,265.90 L292.12,268.17 L297.25,270.45 L302.59,272.73 L308.17,275.00 L313.98,277.27 L320.06,279.55 L326.40,281.83 L333.05,284.10 L340.00,286.38 L347.30,288.65 L354.95,290.92 L362.98,293.20 L371.43,295.48 L380.32,297.75 L389.68,300.02 L399.56,302.30 L410.00,304.57 L421.03,306.85 L432.72,309.12 L445.11,311.40 L458.26,313.68 L472.25,315.95 L487.16,318.23 L503.06,320.50" stroke="#3c1b52" stroke-width="2.20"/>
</g>
<g font-family="Liberation Sans, Arial, sans-serif" font-size="10.5" font-style="italic">
<text transform="translate(176.30 283.70) rotate(36.0)" fill="#8a8478" stroke="#8a8478" stroke-width="0.3">0.5</text>
<text transform="translate(224.80 284.50) rotate(18.0)" fill="#2e3a55" stroke="#2e3a55" stroke-width="0.3">0.3</text>
<text transform="translate(245.50 284.30) rotate(18.0)" fill="#7a9468" stroke="#7a9468" stroke-width="0.3">0.25</text>
<text transform="translate(281.20 284.60) rotate(18.0)" fill="#6e1e38" stroke="#6e1e38" stroke-width="0.3">0.2</text>
<text transform="translate(347.60 286.30) rotate(17.0)" fill="#2c1838" stroke="#2c1838" stroke-width="0.3">0.15</text>
<text transform="translate(305.70 326.50) rotate(15.0)" fill="#7e98ac" stroke="#7e98ac" stroke-width="0.3">0.35</text>
<text transform="translate(289.60 326.30) rotate(24.0)" fill="#c41e72" stroke="#c41e72" stroke-width="0.3">0.4</text>
<text transform="translate(276.80 327.50) rotate(40.0)" fill="#901c50" stroke="#901c50" stroke-width="0.3">0.45</text>
</g>
</svg>
</body></html>
